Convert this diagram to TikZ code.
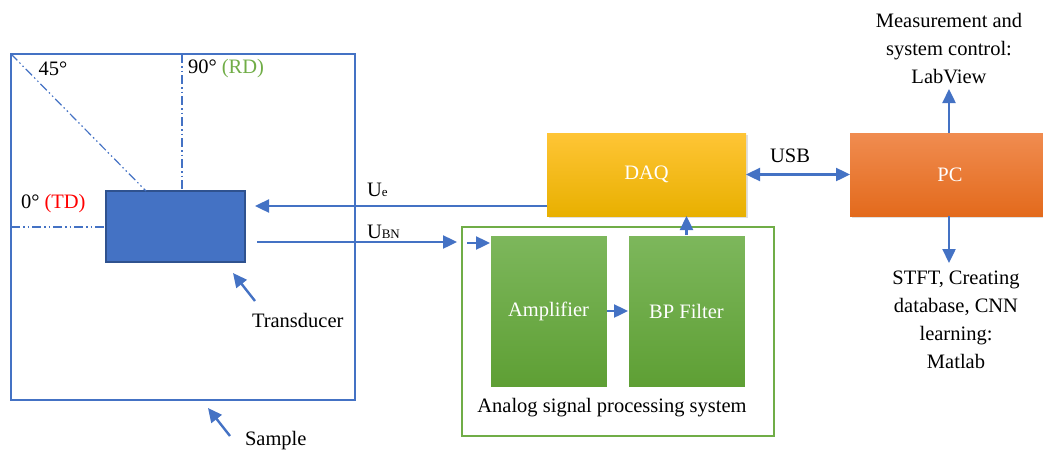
\documentclass[tikz,border=0pt]{standalone}
\usepackage{fontspec}
\setmainfont{Liberation Serif}
\usetikzlibrary{arrows.meta,shadows}
\definecolor{lblue}{HTML}{4472C4}
\definecolor{dblue}{HTML}{2F528F}
\definecolor{lgreen}{HTML}{70AD47}
\definecolor{gtop}{HTML}{7DB75C}
\definecolor{gbot}{HTML}{5E9F34}
\definecolor{ytop}{HTML}{FFC536}
\definecolor{ybot}{HTML}{E8B000}
\definecolor{otop}{HTML}{F08C50}
\definecolor{obot}{HTML}{E36A1C}
\definecolor{tdred}{HTML}{FF0000}
\definecolor{rdgreen}{HTML}{70AD47}
\begin{document}
\begin{tikzpicture}[x=1pt,y=-1pt,
  font=\fontsize{20.5}{28}\selectfont,
  every node/.style={inner sep=0pt,outer sep=0pt},
  arr/.style={draw=lblue,line width=2.4pt,-{Triangle[length=14pt,width=13pt]}},
  dualarr/.style={draw=lblue,line width=2.4pt,{Triangle[length=14pt,width=13pt]}-{Triangle[length=14pt,width=13pt]}},
  dashdot/.style={draw=lblue,line width=1.2pt,dash pattern=on 9pt off 3pt on 1.5pt off 3pt on 1.5pt off 3pt},
  frame/.style={draw=lblue,line width=1.8pt,anchor=north west},
  greenblock/.style={shading=axis,top color=gtop,bottom color=gbot,draw=white,line width=0.6pt,anchor=north west,minimum width=117pt,minimum height=152pt,text=white},
  hdrblock/.style={anchor=north west,minimum height=83pt,text=white,drop shadow={shadow xshift=2pt,shadow yshift=-2pt,opacity=0.25}},
  lbl/.style={text=black}
]
\useasboundingbox (0,0) rectangle (1043,450);

% Sample and transducer
\node[frame,minimum width=344pt,minimum height=346pt] (smp) at (11,54) {};
\node[fill=lblue,draw=dblue,line width=1.4pt,anchor=north west,minimum width=139pt,minimum height=71pt] (td) at (106,191) {};

% dash-dot direction lines
\coordinate (diagE) at (146,191);
\coordinate (vertT) at (182,54);
\coordinate (horL) at (11,227);
\draw[dashdot] (smp.north west) -- (diagE);
\draw[dashdot] (vertT) -- (vertT |- td.north);
\draw[dashdot] (horL) -- (td.west |- horL);

\node[lbl,anchor=center] (l45) at (53,69) {45°};
\node[lbl,anchor=west] (l90) at (188,69) {90° \textcolor{rdgreen}{(RD)}};
\node[lbl,anchor=west] (l0) at (21,204) {0° \textcolor{tdred}{(TD)}};

% pointer arrows
\coordinate (tdS) at (255,301);
\coordinate (tdT) at (233,273);
\draw[arr] (tdS) -- (tdT);
\node[lbl,anchor=west] (ltd) at (252,320) {Transducer};
\coordinate (smS) at (230,436);
\coordinate (smT) at (208,408);
\draw[arr] (smS) -- (smT);
\node[lbl,anchor=west] (lsm) at (245,441) {Sample};

% DAQ and PC
\node[hdrblock,shading=axis,top color=ytop,bottom color=ybot,minimum width=199pt] (daq) at (547,133) {DAQ};
\node[hdrblock,shading=axis,top color=otop,bottom color=obot,minimum width=200pt] (pc) at (850,133) {PC};

% analog processing
\node[draw=lgreen,line width=1.8pt,anchor=north west,minimum width=312pt,minimum height=209pt] (asp) at (462,227) {};
\node[greenblock] (amp) at (490,235) {Amplifier};
\node[greenblock] (bp) at (628,235) {BP Filter};
\node[lbl,anchor=center] (lasp) at (612,408) {Analog signal processing system};

% signals
\coordinate (ueL) at (255,206);
\draw[arr] (daq.west |- ueL) -- (ueL);
\node[lbl,anchor=west] (lue) at (367,190) {U{\fontsize{13}{13}\selectfont e}};
\coordinate (ubnS) at (257,242);
\draw[arr,shorten >=5pt] (ubnS) -- (asp.west |- ubnS);
\node[lbl,anchor=west] (lubn) at (367,232) {U{\fontsize{13}{13}\selectfont BN}};
\coordinate (inS) at (467,243);
\draw[arr] (inS) -- (amp.west |- inS);
\draw[arr] (amp.east) -- (bp.west);
\draw[arr] (bp.north) -- (bp.north |- daq.south);

\draw[dualarr] (daq.east) -- (pc.west);
\node[lbl,anchor=center] (lusb) at (790,156) {USB};

\coordinate (pcUp) at (949,89);
\draw[arr] (pc.north -| pcUp) -- (pcUp);
\node[lbl,align=center,anchor=center] (ltop) at (949,49) {Measurement and\\system control:\\LabView};
\coordinate (pcDn) at (949,263);
\draw[arr] (pc.south -| pcDn) -- (pcDn);
\node[lbl,align=center,anchor=north] (lbot) at (956,271) {STFT, Creating\\database, CNN\\learning:\\Matlab};
\end{tikzpicture}
\end{document}
